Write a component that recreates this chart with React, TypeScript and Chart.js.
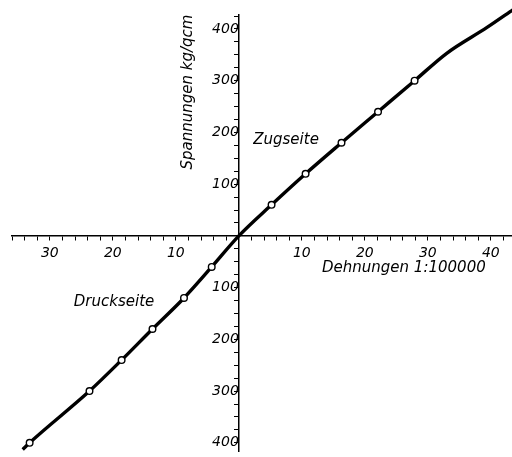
import React, { useEffect, useRef } from 'react';
import { Chart, registerables } from 'chart.js';

Chart.register(...registerables);

// Curve (Spannungs-Dehnungs-Linie)
const curveX = [-34.3, -33.2, -23.7, -18.6, -13.7, -8.7, -4.3, 0, 5.2, 10.6, 16.3, 22.1, 27.9, 33.0, 39.4, 43.6];
const curveY = [-413, -400, -300, -240, -180, -120, -60, 0, 60, 120, 180, 240, 300, 353, 403, 438];

// Measured points (small circles)
const pointX = [-33.2, -23.7, -18.6, -13.7, -8.7, -4.3, 5.2, 10.6, 16.3, 22.1, 27.9];
const pointY = [-400, -300, -240, -180, -120, -60, 60, 120, 180, 240, 300];

// Axis ranges / tick steps
const xRange = [-36, 43.3];
const yRange = [-417, 427];
const xStep = 2;
const xLabelEvery = 10;
const yStep = 25;
const yLabelEvery = 100;

// Texts
const xTitle = 'Dehnungen 1:100000';
const yTitle = 'Spannungen kg/qcm';
const sideLabels = ['Zugseite', 'Druckseite'];
const sideLabelX = [7.5, -19.8];
const sideLabelY = [178, -135];
const xTitlePos = [26.2, -70];
const yTitlePos = [-7.5, 278];

const FONT = '"DejaVu Sans", sans-serif';

const textPlugin = {
  id: 'texts',
  afterDraw(chart: any) {
    const { ctx, scales } = chart;
    const sx = scales.x;
    const sy = scales.y;
    ctx.save();
    ctx.fillStyle = '#000';
    ctx.font = `italic 15px ${FONT}`;
    ctx.textAlign = 'center';
    ctx.textBaseline = 'alphabetic';
    sideLabels.forEach((t, i) => {
      ctx.fillText(t, sx.getPixelForValue(sideLabelX[i]), sy.getPixelForValue(sideLabelY[i]));
    });
    ctx.fillText(xTitle, sx.getPixelForValue(xTitlePos[0]), sy.getPixelForValue(xTitlePos[1]));
    ctx.translate(sx.getPixelForValue(yTitlePos[0]), sy.getPixelForValue(yTitlePos[1]));
    ctx.rotate(-Math.PI / 2);
    ctx.fillText(yTitle, 0, 0);
    ctx.restore();
  },
};

const isMult = (v: number, m: number) => Math.abs(v / m - Math.round(v / m)) < 1e-6;

const zeroPad = (s: any) => {
  s.paddingTop = 0;
  s.paddingBottom = 0;
  s.paddingLeft = 0;
  s.paddingRight = 0;
};

export default function App() {
  const ref = useRef<HTMLCanvasElement>(null);
  useEffect(() => {
    document.body.style.margin = '0';
    const canvas = ref.current!;
    const tickFont = { family: FONT, size: 14, style: 'italic' as const };
    const chart = new Chart(canvas, {
      type: 'scatter',
      data: {
        datasets: [
          {
            label: 'Messpunkte',
            data: pointX.map((x, i) => ({ x, y: pointY[i] })),
            showLine: false,
            pointRadius: 3.3,
            pointBackgroundColor: '#fff',
            pointBorderColor: '#000',
            pointBorderWidth: 1.4,
            order: 0,
            clip: false as any,
          },
          {
            label: 'Kurve',
            data: curveX.map((x, i) => ({ x, y: curveY[i] })),
            showLine: true,
            pointRadius: 0,
            borderColor: '#000',
            borderWidth: 3.4,
            cubicInterpolationMode: 'monotone',
            order: 1,
            clip: false as any,
          },
        ],
      },
      options: {
        animation: false,
        responsive: false,
        events: [],
        layout: { padding: { left: 12, right: 0, top: 15, bottom: 5 } },
        plugins: { legend: { display: false }, tooltip: { enabled: false } },
        scales: {
          x: {
            type: 'linear',
            min: xRange[0],
            max: xRange[1],
            position: { y: 0 } as any,
            grid: {
              drawOnChartArea: false,
              drawTicks: true,
              tickLength: 4,
              tickColor: '#000',
              tickWidth: 1,
            },
            border: { display: true, color: '#000', width: 1.5 },
            ticks: {
              stepSize: xStep,
              includeBounds: false,
              autoSkip: false,
              maxRotation: 0,
              minRotation: 0,
              padding: 5,
              color: '#000',
              font: tickFont,
              callback: (v: any) => (isMult(v, xLabelEvery) && Math.abs(v) > 1e-6 ? String(Math.abs(Math.round(v))) : ''),
            },
            afterBuildTicks: (s: any) => {
              s.ticks = s.ticks.filter((t: any) => isMult(t.value, xStep));
            },
            afterFit: (s: any) => {
              s.height = 0;
              zeroPad(s);
            },
          },
          y: {
            type: 'linear',
            min: yRange[0],
            max: yRange[1],
            position: { x: 0 } as any,
            grid: {
              drawOnChartArea: false,
              drawTicks: true,
              tickLength: 4,
              tickColor: '#000',
              tickWidth: 1,
            },
            border: { display: true, color: '#000', width: 1.5 },
            ticks: {
              stepSize: yStep,
              includeBounds: false,
              autoSkip: false,
              padding: 3,
              color: '#000',
              font: tickFont,
              callback: (v: any) => (isMult(v, yLabelEvery) && Math.abs(v) > 1e-6 ? String(Math.abs(Math.round(v))) : ''),
            },
            afterBuildTicks: (s: any) => {
              s.ticks = s.ticks.filter((t: any) => isMult(t.value, yStep));
            },
            afterFit: (s: any) => {
              s.width = 0;
              zeroPad(s);
            },
          },
        },
      },
      plugins: [textPlugin],
    } as any);
    return () => chart.destroy();
  }, []);
  return (
    <div style={{ position: 'absolute', left: 0, top: 0, width: 512, height: 457, overflow: 'hidden', background: '#fff' }}>
      <canvas ref={ref} width={517} height={457} style={{ display: 'block' }} />
    </div>
  );
}
